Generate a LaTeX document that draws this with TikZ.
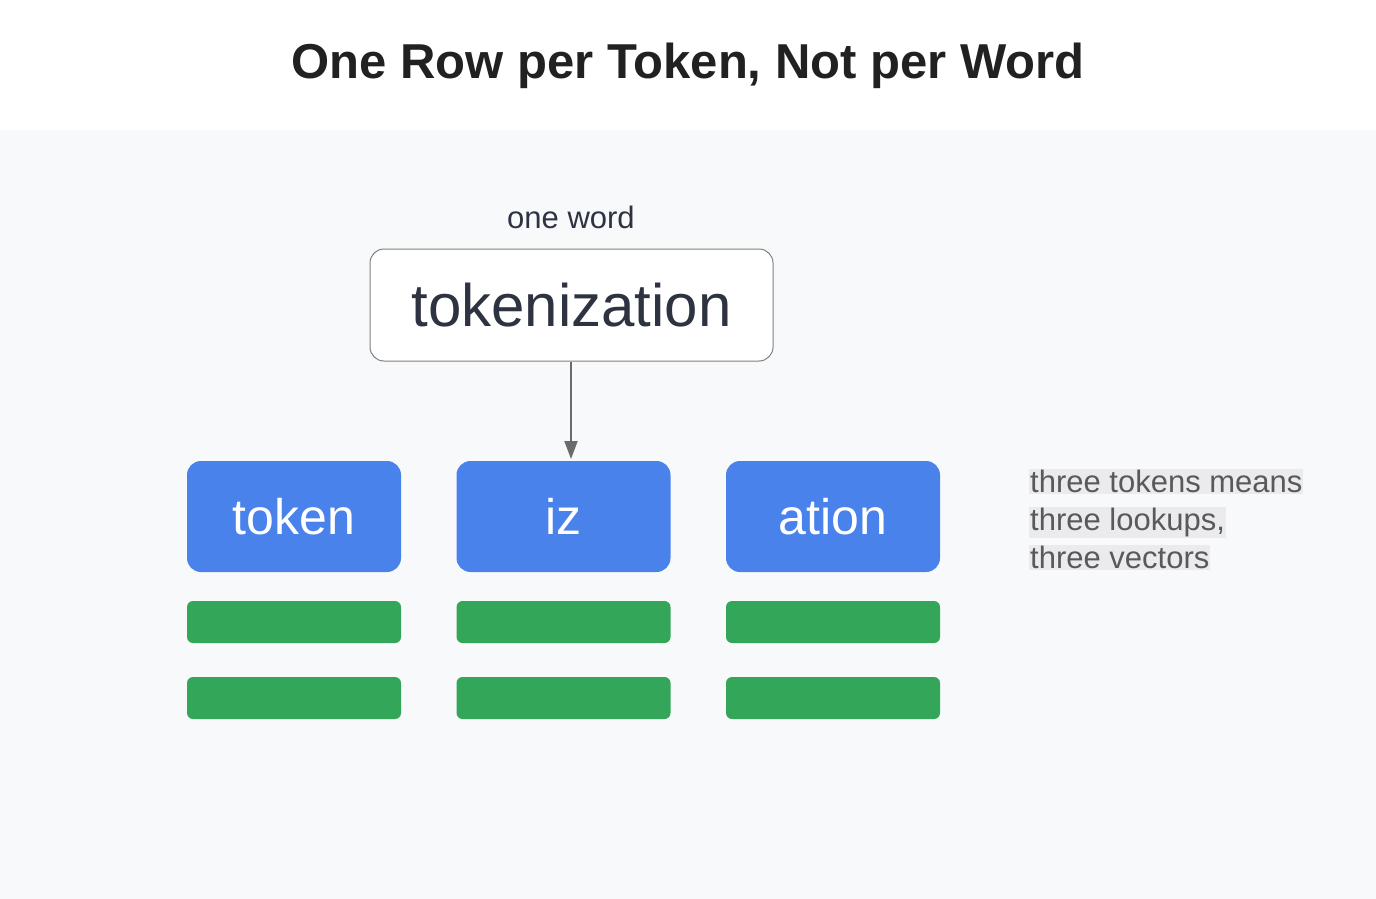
\documentclass[tikz,border=0pt]{standalone}
\usepackage{fontspec}
\setmainfont{Liberation Sans}
\usetikzlibrary{arrows.meta}
\definecolor{bg}{HTML}{F8F9FA}
\definecolor{blue1}{HTML}{4A82EC}
\definecolor{green1}{HTML}{34A65A}
\definecolor{dark}{HTML}{2D3340}
\definecolor{hl}{HTML}{EBEBEE}
\begin{document}
\begin{tikzpicture}[x=1pt,y=-1pt,
  tok/.style={fill=blue1,rounded corners=14pt,minimum width=214pt,minimum height=111pt,text=white,font=\fontsize{50}{60}\selectfont,inner sep=0pt},
  bar/.style={fill=green1,rounded corners=6pt,minimum width=214pt,minimum height=42pt,inner sep=0pt},
  note/.style={fill=hl,text=black!65,font=\fontsize{31}{37}\selectfont,inner sep=1pt,anchor=north west}]
\useasboundingbox (0,0) rectangle (1376,899);
\fill[white] (0,0) rectangle (1376,899);
\fill[bg] (0,130) rectangle (1376,899);
\node[font=\bfseries\fontsize{49}{58}\selectfont,text=black!87] (title) at (688,66) {One Row per Token, Not per Word};
\node[font=\fontsize{31}{37}\selectfont,text=dark] (lbl) at (571,217) {one word};
\node[draw=black!50,line width=1pt,fill=white,rounded corners=14pt,minimum width=403pt,minimum height=112pt,text=dark,font=\fontsize{60}{72}\selectfont,inner sep=0pt] (word) at (571.5,305) {tokenization};
\node[tok] (t1) at (294,516.5) {token};
\node[tok] (t2) at (563.5,516.5) {iz};
\node[tok] (t3) at (833,516.5) {ation};
\foreach \x/\n in {294/a,563.5/b,833/c}{
  \node[bar] (g1\n) at (\x,622) {};
  \node[bar] (g2\n) at (\x,698) {};
}
\coordinate (tip) at (571,459);
\draw[black!58,line width=2pt,-{Triangle[length=18pt,width=13pt]}] (word.south -| tip) -- (tip);
\node[note] (n1) at (1029,469) {three tokens means};
\node[note] (n2) at (1029,507) {three lookups,};
\node[note] (n3) at (1029,545) {three vectors};
\end{tikzpicture}
\end{document}
